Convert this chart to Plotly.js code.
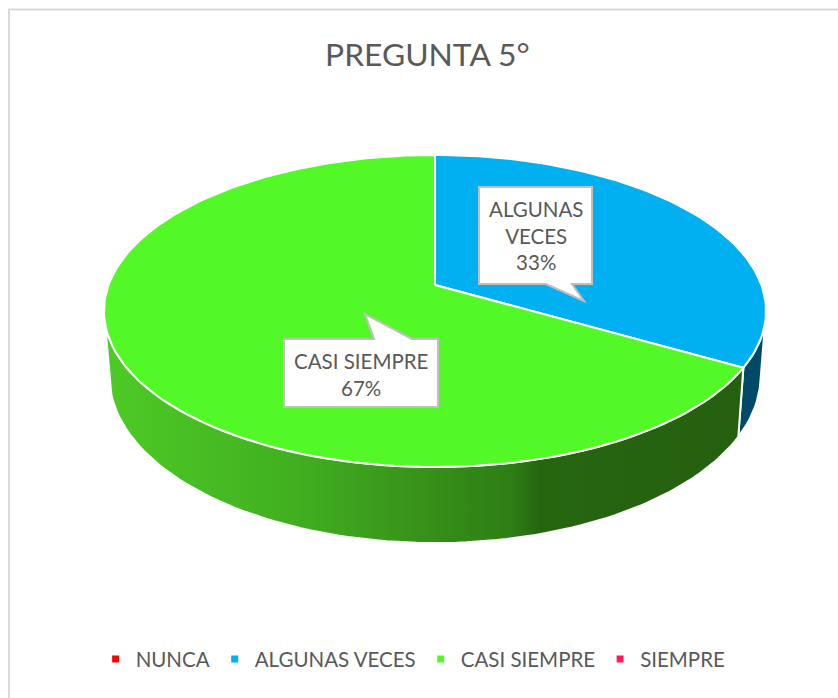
<!DOCTYPE html>
<html>
<head>
<meta charset="utf-8">
<script src="https://cdn.plot.ly/plotly-3.0.1.min.js"></script>
<style>html,body{margin:0;padding:0;background:#fff}#chart{width:838px;height:698px}</style>
</head>
<body>
<div id="chart"></div>
<script>
const chartTitle = 'PREGUNTA 5°';
const categories = ['NUNCA', 'ALGUNAS VECES', 'CASI SIEMPRE', 'SIEMPRE'];
const values = [0, 1, 2, 0];
const colors = ['#FF0000', '#00B0F0', '#53F927', '#FF1A5E'];
const sideFill = {
  'ALGUNAS VECES': [[0, '#004A68'], [1, '#004A68']],
  'CASI SIEMPRE': [[0, '#4DCB26'], [0.3, '#41AF20'], [0.52, '#368E19'], [0.64, '#2E7D15'], [0.68, '#27660F'], [1, '#255F10']]
};

const total = values.reduce((a, b) => a + b, 0);
const cx = 435, persp = 1 / 6;
const topRim = {cy: 285, sx: 326.4, sy: 151.7};
const bottomRim = {cy: 348.6, sx: 321, sy: 162};
const project = (rim, deg) => {
  const t = deg * Math.PI / 180, u = Math.sin(t), v = Math.cos(t), d = 1 + persp * v;
  return [cx + rim.sx * u / d, rim.cy - rim.sy * v / d];
};
const arc = (rim, a, b) => {
  const n = Math.max(2, Math.ceil(Math.abs(b - a) / 1.5)), pts = [];
  for (let i = 0; i <= n; i++) pts.push(project(rim, a + (b - a) * i / n));
  return pts;
};
const limb = Math.acos(-persp) * 180 / Math.PI;   // angle where the rim turns away from the viewer
const traces = [];
const poly = (pts, fill, extra) => Object.assign({
  x: pts.map(p => p[0]), y: pts.map(p => p[1]),
  mode: 'lines', fill: 'toself', fillcolor: fill,
  line: {color: '#FFFFFF', width: 2}, hoverinfo: 'skip', showlegend: false
}, extra || {});

// walls
let start = 0;
const spans = categories.map((c, i) => {
  const s = {name: c, color: colors[i], a: start, b: start + 360 * values[i] / total, v: values[i]};
  start = s.b;
  return s;
});
spans.filter(s => s.v > 0).forEach(s => {
  const a = Math.max(s.a, limb), b = Math.min(s.b, 360 - limb);
  if (b <= a) return;
  const pts = arc(topRim, a, b).concat(arc(bottomRim, b, a));
  pts.push(pts[0]);
  traces.push(poly(pts, sideFill[s.name][0][1], {
    fillgradient: {type: 'horizontal', colorscale: sideFill[s.name]}
  }));
});
// top faces
spans.filter(s => s.v > 0).forEach(s => {
  const pts = [[cx, topRim.cy]].concat(arc(topRim, s.a, s.b));
  pts.push([cx, topRim.cy]);
  traces.push(poly(pts, s.color));
});
// legend entries
categories.forEach((c, i) => traces.push({
  x: [null], y: [null], name: c, type: 'scatter', mode: 'markers',
  marker: {symbol: 'square', size: 7, color: colors[i]}, hoverinfo: 'skip'
}));

const pct = i => Math.round(100 * values[i] / total) + '%';
const calloutPath = (l, t, r, b, tail) => {
  const pts = [[l, t]];
  if (tail.side === 'top') pts.push(...tail.pts);
  pts.push([r, t], [r, b]);
  if (tail.side === 'bottom') pts.push(...tail.pts);
  pts.push([l, b]);
  return 'M' + pts.map(p => p.join(',')).join('L') + 'Z';
};
const calloutStyle = {type: 'path', xref: 'x', yref: 'y', fillcolor: '#FFFFFF', line: {color: '#BFBFBF', width: 2}, layer: 'above'};
const textFont = {family: 'Lato, Carlito, sans-serif', size: 20.5, color: '#595959'};

const layout = {
  width: 838, height: 698,
  margin: {l: 0, r: 0, t: 0, b: 0},
  paper_bgcolor: '#FFFFFF', plot_bgcolor: '#FFFFFF',
  xaxis: {range: [0, 838], visible: false, fixedrange: true},
  yaxis: {range: [698, 0], visible: false, fixedrange: true},
  title: {text: chartTitle, font: {family: 'Lato, Carlito, sans-serif', size: 31.8, color: '#595959'}, x: 0.51, xanchor: 'center', y: 0.921, yanchor: 'middle'},
  showlegend: true,
  legend: {orientation: 'h', x: 0.493, xanchor: 'center', y: 0.0558, yanchor: 'middle', font: textFont, bgcolor: 'rgba(0,0,0,0)', itemclick: false, itemdoubleclick: false, traceorder: 'normal'},
  shapes: [
    Object.assign({}, calloutStyle, {path: calloutPath(479, 187, 592, 284, {side: 'bottom', pts: [[572, 284], [584, 301], [546, 284]]})}),
    Object.assign({}, calloutStyle, {path: calloutPath(284, 339, 438, 407, {side: 'top', pts: [[374, 339], [365, 314], [412, 339]]})}),
    {type: 'path', xref: 'x', yref: 'y', path: 'M9,698L9,9.5L838,9.5', line: {color: '#D9D9D9', width: 2}, layer: 'below'}
  ],
  annotations: [
    {x: 535.5, y: 235.5, xref: 'x', yref: 'y', showarrow: false, align: 'center', font: textFont,
     text: 'ALGUNAS<br>VECES<br>' + pct(1)},
    {x: 361, y: 374.5, xref: 'x', yref: 'y', showarrow: false, align: 'center', font: textFont,
     text: 'CASI SIEMPRE<br>' + pct(2)}
  ]
};
Plotly.newPlot('chart', traces, layout, {displayModeBar: false, staticPlot: true});
</script>
</body>
</html>
